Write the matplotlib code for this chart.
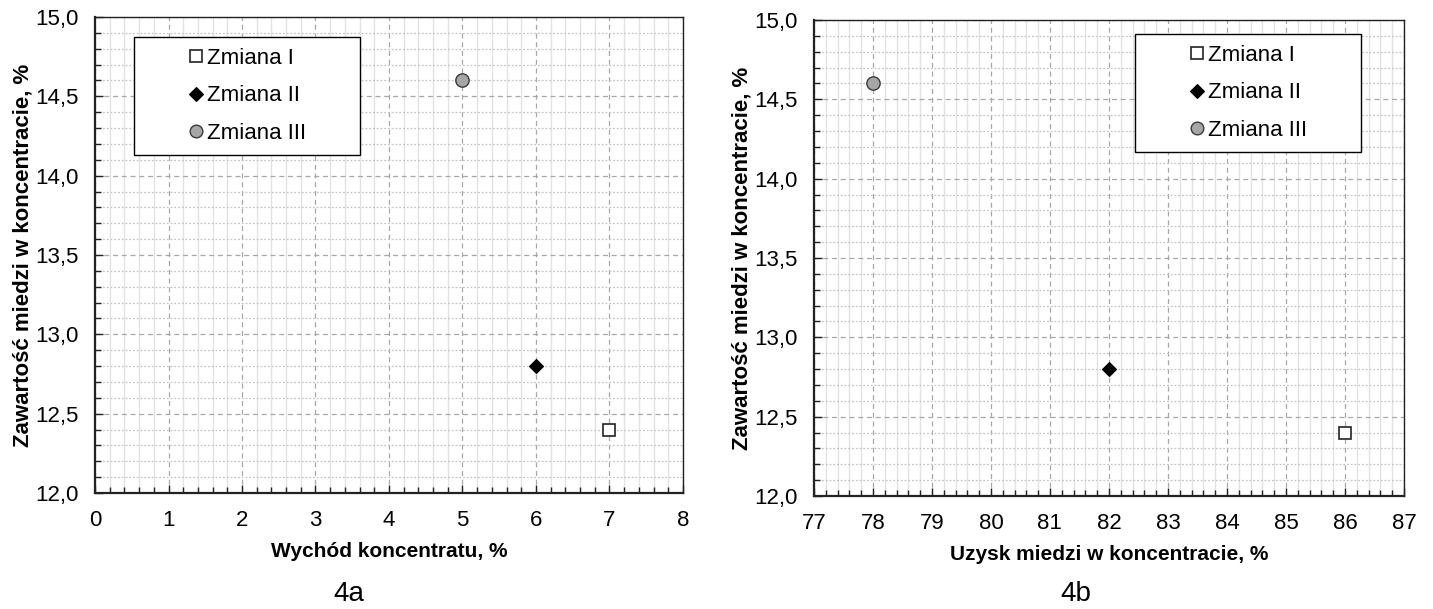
import matplotlib
matplotlib.use('Agg')
import matplotlib.pyplot as plt
from matplotlib.ticker import MultipleLocator, FuncFormatter

plt.rcParams['font.family'] = ['Liberation Sans', 'DejaVu Sans']

# Data
series = ['Zmiana I', 'Zmiana II', 'Zmiana III']
wychod = [7, 6, 5]              # Wychód koncentratu, %
uzysk = [86, 82, 78]            # Uzysk miedzi w koncentracie, %
zawartosc = [12.4, 12.8, 14.6]  # Zawartość miedzi w koncentracie, %

styles = [
    dict(marker='s', ms=8.6, mfc='white', mec='#222222', mew=1.2),
    dict(marker='D', ms=7.0, mfc='black', mec='black', mew=0.8),
    dict(marker='o', ms=9.6, mfc='#a6a6a6', mec='#3a3a3a', mew=1.0),
]

fig = plt.figure(figsize=(14.33, 6.09), dpi=100)
ax1 = fig.add_axes([0.0663, 0.1905, 0.4103, 0.7816])
ax2 = fig.add_axes([0.5680, 0.1856, 0.4117, 0.7816])

comma = FuncFormatter(lambda v, p: f'{v:.1f}'.replace('.', ','))


def style_axes(ax, xlim, xlabel):
    ax.set_xlim(*xlim)
    ax.set_ylim(12.0, 15.0)
    ax.xaxis.set_major_locator(MultipleLocator(1))
    ax.xaxis.set_minor_locator(MultipleLocator(0.2))
    ax.yaxis.set_major_locator(MultipleLocator(0.5))
    ax.yaxis.set_minor_locator(MultipleLocator(0.1))
    ax.yaxis.set_major_formatter(comma)
    ax.set_axisbelow(True)
    ax.xaxis.grid(True, which='minor', color='#e3e3e3', lw=1.0, ls='-')
    ax.yaxis.grid(True, which='minor', color='#c4c4c4', lw=0.9, ls=(0, (1.5, 1.5)))
    ax.grid(True, which='major', color='#a8a8a8', lw=0.9, ls=(0, (4, 3)))
    ax.tick_params(which='both', direction='in', labelsize=16, pad=12,
                   color='#222222', top=False, right=False)
    ax.tick_params(which='major', length=6, width=1.0)
    ax.tick_params(which='minor', length=4, width=1.0)
    for s in ax.spines.values():
        s.set_color('#222222')
        s.set_linewidth(1.0)
    ax.spines['bottom'].set_linewidth(1.6)
    ax.spines['left'].set_linewidth(1.6)
    ax.set_xlabel(xlabel, fontsize=15, fontweight='bold', labelpad=8)
    ax.set_ylabel('Zawartość miedzi w koncentracie, %', fontsize=16,
                  fontweight='bold', labelpad=1)


def add_points(ax, xs):
    for name, x, y, st in zip(series, xs, zawartosc, styles):
        ax.plot([x], [y], ls='none', label=name, zorder=5, **st)


def add_legend(ax, x0, w, top):
    leg = ax.legend(loc='upper left', bbox_to_anchor=(x0, 0, w, top), mode='expand',
                    fontsize=16, numpoints=1, markerscale=0.95, borderpad=0.5,
                    labelspacing=0.73, handlelength=4.6, handletextpad=-1.8,
                    fancybox=False, framealpha=1, edgecolor='black', borderaxespad=0)
    leg.get_frame().set_linewidth(1.0)


style_axes(ax1, (0, 8), 'Wychód koncentratu, %')
add_points(ax1, wychod)
add_legend(ax1, 0.0663, 0.3844, 0.958)

style_axes(ax2, (77, 87), 'Uzysk miedzi w koncentracie, %')
add_points(ax2, uzysk)
add_legend(ax2, 0.544, 0.383, 0.9706)

fig.text(0.2435, 0.0246, '4a', fontsize=20, ha='center', va='center')
fig.text(0.751, 0.0246, '4b', fontsize=20, ha='center', va='center')

fig.savefig('out.png', dpi=100)
